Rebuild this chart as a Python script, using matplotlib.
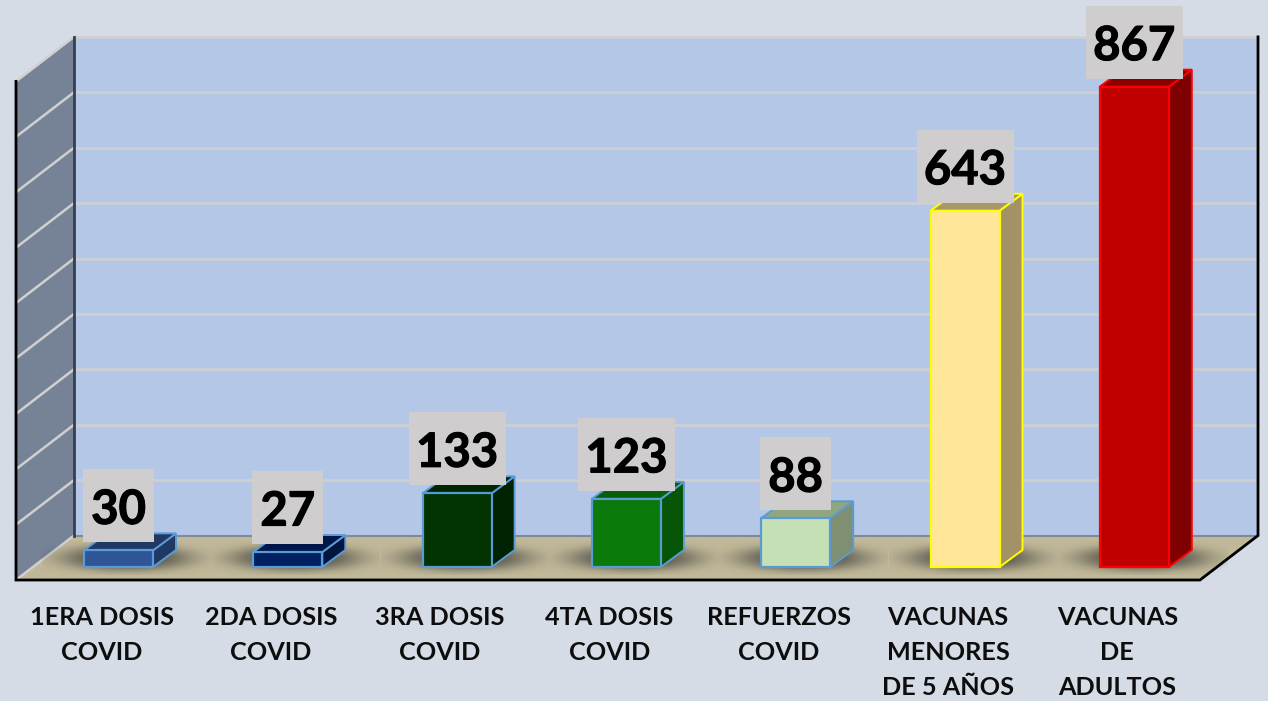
import matplotlib
matplotlib.use('Agg')
import matplotlib.pyplot as plt
import matplotlib.patheffects as pe
from matplotlib.patches import Rectangle
import numpy as np

plt.rcParams['font.family'] = ['Lato', 'DejaVu Sans']

categories = ['1ERA DOSIS\nCOVID', '2DA DOSIS\nCOVID', '3RA DOSIS\nCOVID', '4TA DOSIS\nCOVID',
              'REFUERZOS\nCOVID', 'VACUNAS\nMENORES\nDE 5 AÑOS', 'VACUNAS\nDE\nADULTOS']
values = [30, 27, 133, 123, 88, 643, 867]
grid_values = [0, 100, 200, 300, 400, 500, 600, 700, 800, 900]

front_colors = ['#2f5597', '#002060', '#003300', '#0a7a0a', '#c5e0b4', '#ffe699', '#c00000']
top_colors = ['#203864', '#00154a', '#002600', '#076007', '#8fa67e', '#a89968', '#8a0000']
side_colors = ['#1f3864', '#00163f', '#002200', '#075507', '#7f8f72', '#a39263', '#7f0000']
edge_colors = ['#5b9bd5', '#5b9bd5', '#5b9bd5', '#5b9bd5', '#5b9bd5', '#ffff00', '#ff0000']

bg = '#d6dce6'
px_x = 169.3   # pixels per category
px_y = 0.554   # pixels per unit
x0 = 118.5     # pixel of first category
y0 = 567       # pixel of value 0

fig = plt.figure(figsize=(12.68, 7.01), dpi=100, facecolor=bg)
ax = fig.add_axes([0, 0, 1, 1])
xlim = (-x0 / px_x, (1268 - x0) / px_x)
ylim = (-(701 - y0) / px_y, y0 / px_y)
ax.axis('off')

bar_w = 69 / px_x
depth_x = 23 / px_x
depth_y = 17 / px_y

# frame of the 3d box
left = (16 - x0) / px_x
right = (1200 - x0) / px_x
wall_x = 58 / px_x
floor_front = (y0 - 580) / px_y
floor_back = (y0 - 535.5) / px_y
top = floor_back + grid_values[-1]

ax.fill([left + wall_x, right + wall_x, right + wall_x, left + wall_x],
        [floor_back, floor_back, top, top], color='#b4c7e7', lw=0, zorder=1)
ax.fill([left, left + wall_x, left + wall_x, left],
        [floor_front, floor_back, top, floor_front + grid_values[-1]], color='#768397', lw=0, zorder=1)
ax.fill([left, right, right + wall_x, left + wall_x],
        [floor_front, floor_front, floor_back, floor_back], color='#c0b898', lw=0, zorder=1)

for v in grid_values[1:]:
    ax.plot([left + wall_x, right + wall_x], [floor_back + v, floor_back + v], color='#d0d0d0', lw=1.8, zorder=2)
for v in grid_values:
    ax.plot([left, left + wall_x], [floor_front + v, floor_back + v], color='#d0d0d0', lw=1.8, zorder=2)

ax.plot([left + wall_x, right + wall_x], [floor_back, floor_back], color='#7f8a9a', lw=1.5, zorder=2)
ax.plot([left + wall_x, left + wall_x], [floor_back, top], color='#333f50', lw=2, zorder=2)
ax.plot([left, left, right, right + wall_x, right + wall_x],
        [floor_front + grid_values[-1], floor_front, floor_front, floor_back, top],
        color='black', lw=2, zorder=3, solid_joinstyle='miter')

xs = np.arange(len(values))

# soft shadow on the floor
gx, gy = np.meshgrid(np.linspace(-1.3, 1.3, 80), np.linspace(-1.3, 1.3, 40))
shade = np.zeros(gx.shape + (4,))
shade[..., :3] = 0.2
shade[..., 3] = 0.75 * np.exp(-(gx ** 2 + gy ** 2) ** 1.6)
for x in xs:
    cx = x + 8 / px_x
    ax.imshow(shade, extent=[cx - 65 * 1.3 / px_x, cx + 65 * 1.3 / px_x, 9 / px_y - 13 * 1.3 / px_y, 9 / px_y + 13 * 1.3 / px_y],
              origin='lower', aspect='auto', interpolation='bilinear', zorder=3)

ax.bar(xs, values, width=bar_w, color=front_colors, edgecolor=edge_colors, linewidth=1.6, zorder=6)

for x, v, tc, sc, ec in zip(xs, values, top_colors, side_colors, edge_colors):
    l, r = x - bar_w / 2, x + bar_w / 2
    ax.fill([r, r + depth_x, r + depth_x, r], [0, depth_y, v + depth_y, v],
            facecolor=sc, edgecolor=ec, lw=1.4, zorder=5)
    ax.fill([l, r, r + depth_x, l + depth_x], [v, v, v + depth_y, v + depth_y],
            facecolor=tc, edgecolor=ec, lw=1.4, zorder=5)
    # value label on its grey box
    box_w = (26 * len(str(v)) + 19) / px_x
    box_h = 73 / px_y
    box_y = v + 8 / px_y
    ax.add_patch(Rectangle((x - box_w / 2, box_y), box_w, box_h, fc='#cfcdcd', ec='none', zorder=7))
    ax.text(x, box_y + box_h / 2 - 4 / px_y, str(v), ha='center', va='center', fontsize=34, fontweight='bold',
            color='black', zorder=8, path_effects=[pe.withStroke(linewidth=0.8, foreground='black')])

for x, c in zip(xs, categories):
    ax.text(x - 17 / px_x, -(606 - y0) / px_y, c, ha='center', va='top', fontsize=18.2, fontweight='bold',
            color='#0d0d0d', linespacing=1.64, zorder=8)

ax.set_xlim(xlim)
ax.set_ylim(ylim)
fig.savefig('out.png', dpi=100, facecolor=bg)
